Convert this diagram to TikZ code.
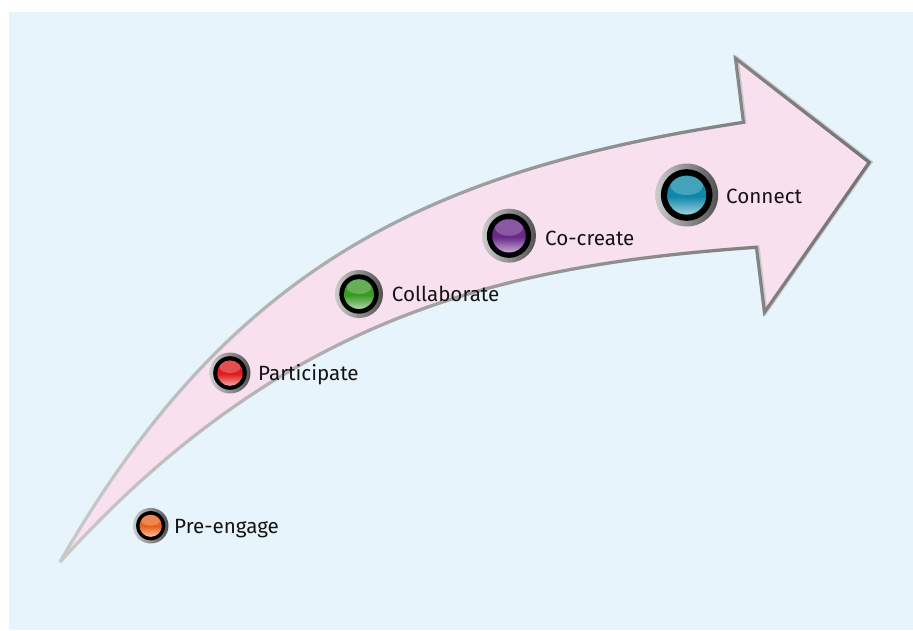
\documentclass[tikz,border=0pt]{standalone}
\usepackage{fontspec}
\setmainfont{Fira Sans}
\usetikzlibrary{fadings}
\definecolor{bgblue}{HTML}{E7F4FC}
\definecolor{pinkfill}{HTML}{F8E0EF}
\definecolor{edgelight}{HTML}{CACACA}
\definecolor{edgedark}{HTML}{747474}
\definecolor{cOrange}{HTML}{E8641E}
\definecolor{cRed}{HTML}{E01E1E}
\definecolor{cGreen}{HTML}{3A9A26}
\definecolor{cPurple}{HTML}{6A2A8A}
\definecolor{cBlue}{HTML}{1088A8}
\tikzfading[name=fadeleft, left color=transparent!100, right color=transparent!0]
\tikzset{
  lbl/.style={anchor=base west, inner sep=0pt, text=black!92, font=\fontsize{20.6}{25}\selectfont},
  ring/.style={circle, inner sep=0pt, minimum size=#1, left color=black!20, right color=black!68, draw=none},
}
\newcommand\glossbtn[4]{% name, position, outer radius (pt), colour
  \node[ring=2*#3 pt] (#1) at (#2) {};
  \fill[black] (#1.center) circle ({0.82*#3 pt});
  \fill[#4] (#1.center) circle ({0.62*#3 pt});
  \begin{scope}
    \clip (#1.center) circle ({0.62*#3 pt});
    \shade[top color=#4, bottom color=#4!35!white]
      ([xshift={-0.7*#3 pt}, yshift={-0.05*#3 pt}]#1.center) rectangle ([xshift={0.7*#3 pt}, yshift={-0.66*#3 pt}]#1.center);
    \fill[white, opacity=0.22] ([yshift={0.30*#3 pt}]#1.center) ellipse ({0.52*#3 pt} and {0.30*#3 pt});
  \end{scope}
}
\begin{document}
\begin{tikzpicture}[x=1pt,y=-1pt]
\useasboundingbox (0,0) rectangle (913,630);
\fill[white] (0,0) rectangle (913,630);
\fill[bgblue] (9,12) rectangle (913,630);
% arrow body
\def\arrowpath{(60,562) .. controls (231,265) and (430,170) .. (745,122) -- (737,58) -- (871,162) -- (766,312) -- (758,247) .. controls (503,265) and (285,314.5) .. (60,562) -- cycle}
\fill[pinkfill] \arrowpath;
\draw[edgelight, line width=3.2pt, miter limit=3] \arrowpath;
\draw[edgedark, line width=3.2pt, miter limit=3, path fading=fadeleft] \arrowpath;
% buttons
\glossbtn{b1}{150.7,525.7}{17.8}{cOrange}
\glossbtn{b2}{230,373}{20.5}{cRed}
\glossbtn{b3}{359,294}{24}{cGreen}
\glossbtn{b4}{509,235.7}{27}{cPurple}
\glossbtn{b5}{686.7,195}{31.5}{cBlue}
% labels
\node[lbl] (t1) at (174,533) {Pre-engage};
\node[lbl] (t2) at (258,380) {Participate};
\node[lbl] (t3) at (391.7,301.7) {Collaborate};
\node[lbl] (t4) at (545,245) {Co-create};
\node[lbl] (t5) at (726,203.3) {Connect};
\end{tikzpicture}
\end{document}
